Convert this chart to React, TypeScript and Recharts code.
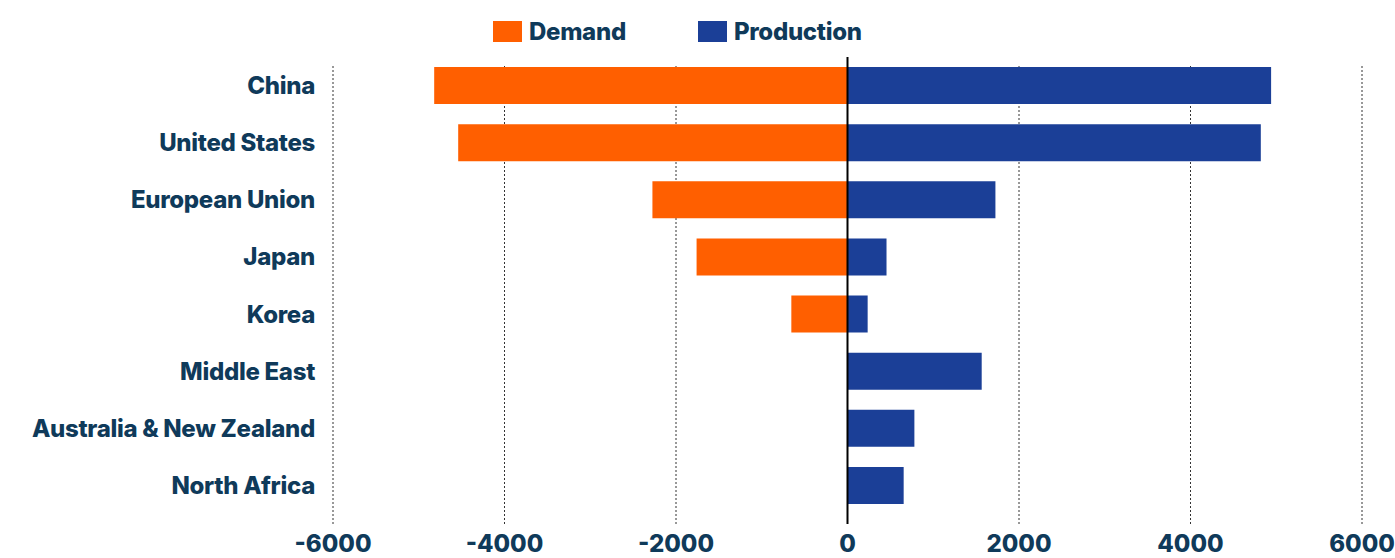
import {
  Bar,
  BarChart,
  CartesianGrid,
  ReferenceLine,
  XAxis,
  YAxis
} from "recharts";

const regions = [
  "China",
  "United States",
  "European Union",
  "Japan",
  "Korea",
  "Middle East",
  "Australia & New Zealand",
  "North Africa"
];
const demand = [-4820, -4540, -2275, -1760, -655, 0, 0, 0];
const production = [4940, 4820, 1725, 455, 235, 1565, 780, 655];
const xTicks = [-6000, -4000, -2000, 0, 2000, 4000, 6000];

const DEMAND_COLOR = "#ff5f00";
const PRODUCTION_COLOR = "#1b3f97";
const TEXT_COLOR = "#0f3a5a";
const FONT = "Inter, 'Open Sans', sans-serif";

const rows = regions.map((region, i) => ({
  region,
  demand: demand[i],
  production: production[i]
}));

const legendItems = [
  { label: "Demand", color: DEMAND_COLOR },
  { label: "Production", color: PRODUCTION_COLOR }
];

export default function App() {
  return (
    <div style={{ position: "relative", width: 1395, height: 558, fontFamily: FONT }}>
      <style>{`body { margin: 0; }`}</style>
      <div
        style={{
          position: "absolute",
          top: 17,
          left: 493,
          display: "flex",
          alignItems: "center",
          gap: 72
        }}
      >
        {legendItems.map((item) => (
          <div key={item.label} style={{ display: "flex", alignItems: "center" }}>
            <span
              style={{
                display: "inline-block",
                width: 29,
                height: 21,
                background: item.color,
                marginRight: 7
              }}
            />
            <span style={{ fontSize: 24, fontWeight: 800, color: TEXT_COLOR, letterSpacing: -0.3 }}>
              {item.label}
            </span>
          </div>
        ))}
      </div>
      <BarChart
        width={1395}
        height={558}
        data={rows}
        layout="vertical"
        stackOffset="sign"
        margin={{ top: 57, right: 33, bottom: 0, left: 0 }}
      >
        <CartesianGrid
          horizontal={false}
          stroke="#333"
          strokeDasharray="2 2"
          y={66}
          height={458}
        />
        <XAxis
          type="number"
          domain={[-6000, 6000]}
          ticks={xTicks}
          axisLine={false}
          tickLine={false}
          height={34}
          tickMargin={5}
          tick={{ fill: TEXT_COLOR, fontSize: 24, fontWeight: 800, fontFamily: FONT }}
        />
        <YAxis
          type="category"
          dataKey="region"
          width={333}
          axisLine={false}
          tickLine={false}
          tickMargin={12}
          padding={{ top: 0, bottom: 10 }}
          tick={{ fill: TEXT_COLOR, fontSize: 24, fontWeight: 800, fontFamily: FONT, letterSpacing: -0.3 }}
        />
        <Bar dataKey="demand" stackId="a" fill={DEMAND_COLOR} barSize={37} isAnimationActive={false} />
        <Bar dataKey="production" stackId="a" fill={PRODUCTION_COLOR} barSize={37} isAnimationActive={false} />
        <ReferenceLine x={0} stroke="#000" strokeWidth={2} />
      </BarChart>
    </div>
  );
}
